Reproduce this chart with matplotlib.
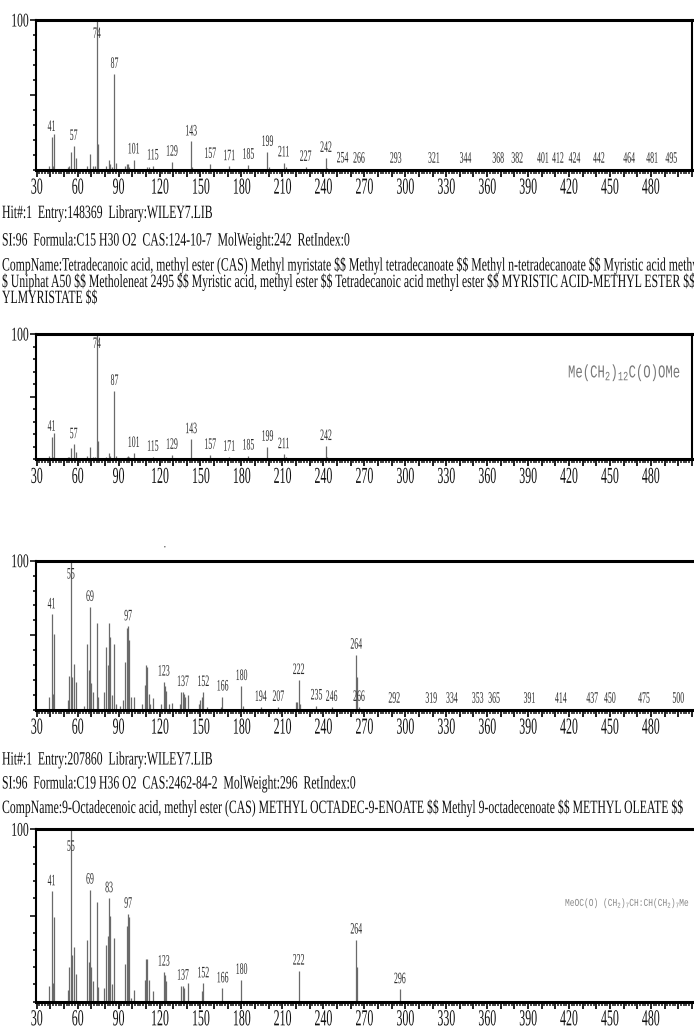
import matplotlib
matplotlib.use('Agg')
import matplotlib.pyplot as plt
from matplotlib.patheffects import AbstractPathEffect
from matplotlib.transforms import Affine2D
from matplotlib.ticker import MultipleLocator, FixedLocator, FuncFormatter

plt.rcParams['font.family'] = ['Liberation Serif', 'DejaVu Serif']
plt.rcParams['mathtext.default'] = 'regular'

# spectrum 1: sample peak, methyl myristate
mz1 = [39, 41, 42, 43, 53, 54, 55, 57, 59, 67, 69, 71, 73, 74, 75, 81, 83, 84, 85, 87, 88,
       95, 96, 97, 98, 101, 111, 112, 115, 129, 130, 143, 144, 155, 157, 171, 185, 199, 200,
       211, 213, 227, 242, 243, 254, 266, 293, 321, 344, 368, 382, 401, 412, 424, 442, 464,
       481, 495]
ab1 = [3, 22, 3, 24, 2, 3, 12, 16, 8, 3, 11, 3, 3, 100, 17, 3, 7, 4, 2, 64, 5,
       3, 4, 4, 2, 7, 2, 2, 3, 5.5, 1, 19, 2, 1, 4, 2.5, 3.5, 12, 2,
       5, 2, 2, 8, 1.5, 1, 0.8, 0.8, 0.8, 0.8, 0.8, 0.8, 0.8, 0.8, 0.8, 0.8, 0.8,
       0.8, 0.8]
lab1 = [41, 57, 74, 87, 101, 115, 129, 143, 157, 171, 185, 199, 211, 227, 242, 254, 266,
        293, 321, 344, 368, 382, 401, 412, 424, 442, 464, 481, 495]

# spectrum 2: library hit, methyl myristate
mz2 = [39, 41, 42, 43, 53, 54, 55, 57, 59, 67, 69, 71, 73, 74, 75, 81, 83, 84, 87, 88,
       96, 97, 98, 101, 115, 129, 143, 157, 171, 185, 199, 211, 213, 242, 243]
ab2 = [3, 18, 2, 21, 2, 2, 9, 12, 6, 3, 10, 2, 2, 100, 15, 2, 5, 3, 54.5, 3,
       2, 3, 2, 5, 2, 3.5, 16, 3.5, 2, 3, 10, 4, 2, 10.5, 2]
lab2 = [41, 57, 74, 87, 101, 115, 129, 143, 157, 171, 185, 199, 211, 242]

# spectrum 3: sample peak, methyl oleate
mz3 = [39, 41, 42, 43, 53, 54, 55, 56, 57, 59, 65, 67, 68, 69, 70, 71, 74, 75, 79, 81, 82,
       83, 84, 85, 87, 88, 91, 93, 95, 96, 97, 98, 99, 101, 107, 109, 110, 111, 112, 113,
       115, 121, 123, 124, 125, 127, 129, 135, 136, 137, 138, 139, 141, 149, 150, 151, 152,
       155, 165, 166, 180, 181, 194, 207, 220, 221, 222, 223, 235, 246, 264, 265, 266, 292,
       319, 334, 353, 365, 391, 414, 437, 450, 475, 500]
ab3 = [9, 64, 11, 51, 7, 23, 100, 22, 31, 19, 3, 44, 27, 69, 18, 12, 58, 9, 12, 42, 30,
       58, 49, 10, 44, 4, 3, 7, 32, 55, 56, 47, 9, 9, 4, 17, 30, 29, 11, 4,
       8, 4, 19, 16, 13, 4, 5, 4, 12, 12, 11, 9, 10, 4, 7, 9, 12,
       2, 2, 9, 16, 3, 2, 2, 5.5, 5.5, 20, 4, 3, 2, 37, 22, 2, 0.8,
       0.8, 0.8, 0.8, 0.8, 0.8, 0.8, 0.8, 0.8, 0.8, 0.8]
lab3 = [41, 55, 69, 97, 123, 137, 152, 166, 180, 194, 207, 222, 235, 246, 264, 266, 292,
        319, 334, 353, 365, 391, 414, 437, 450, 475, 500]

# spectrum 4: library hit, methyl oleate
mz4 = [39, 41, 42, 43, 53, 54, 55, 56, 57, 59, 67, 68, 69, 70, 71, 74, 75, 79, 81, 82, 83,
       84, 85, 87, 95, 96, 97, 98, 99, 101, 109, 110, 111, 112, 115, 123, 124, 125, 136,
       137, 138, 141, 151, 152, 166, 180, 222, 264, 265, 296]
ab4 = [9, 64, 11, 49, 7, 20, 100, 27, 32, 16, 36, 23, 65, 20, 12, 58, 8.5, 8, 33, 38, 60,
       50, 10, 37, 22, 44, 51, 49, 2, 7, 12.6, 25, 25, 12.6, 6, 17.4, 15.5, 12, 9.3,
       9.3, 7.7, 10.6, 6, 10.6, 7.7, 12.6, 18, 36, 20, 7.2]
lab4 = [41, 55, 69, 83, 97, 123, 137, 152, 166, 180, 222, 264, 296]

hit1 = ['Hit#:1  Entry:148369  Library:WILEY7.LIB',
        'SI:96  Formula:C15 H30 O2  CAS:124-10-7  MolWeight:242  RetIndex:0',
        'CompName:Tetradecanoic acid, methyl ester (CAS) Methyl myristate $$ Methyl tetradecanoate'
        ' $$ Methyl n-tetradecanoate $$ Myristic acid methyl ester $',
        '$ Uniphat A50 $$ Metholeneat 2495 $$ Myristic acid, methyl ester $$ Tetradecanoic acid'
        ' methyl ester $$ MYRISTIC ACID-METHYL ESTER $$ METH',
        'YLMYRISTATE $$']
hit2 = ['Hit#:1  Entry:207860  Library:WILEY7.LIB',
        'SI:96  Formula:C19 H36 O2  CAS:2462-84-2  MolWeight:296  RetIndex:0',
        'CompName:9-Octadecenoic acid, methyl ester (CAS) METHYL OCTADEC-9-ENOATE $$'
        ' Methyl 9-octadecenoate $$ METHYL OLEATE $$']


class Squeeze(AbstractPathEffect):
    # draws the text narrower, like the condensed print of the scan
    def __init__(self, sx=0.55, anchor='center'):
        super().__init__()
        self.sx = sx
        self.anchor = anchor

    def draw_path(self, renderer, gc, tpath, affine, rgbFace=None):
        ext = tpath.get_extents()
        if self.anchor == 'left':
            px = 0.0
        elif self.anchor == 'right':
            px = ext.x1
        else:
            px = (ext.x0 + ext.x1) / 2
        x0 = affine.transform((px, 0))[0]
        aff = affine + Affine2D().translate(-x0, 0).scale(self.sx, 1).translate(x0, 0)
        renderer.draw_path(gc, tpath, aff, rgbFace)


W, H = 694, 1032
fig = plt.figure(figsize=(W / 100, H / 100), dpi=100)

X30 = 36.67   # pixel of m/z 30
K = 1.365     # pixels per m/z unit
LEFT = 35.5


def spectrum(top, bottom, right, mz, ab, labels):
    ax = fig.add_axes([LEFT / W, 1 - bottom / H, (right - LEFT) / W, (bottom - top) / H])
    ax.vlines(mz, 0, ab, colors='#6a6a6a', lw=0.9)
    ax.set_xlim(30 - (X30 - LEFT) / K, 30 + (right - X30) / K)
    ax.set_ylim(0, 100)
    for m in labels:
        a = ab[mz.index(m)]
        ax.annotate(str(m), (m, min(a, 84)), xytext=(0, 1.5), textcoords='offset points',
                    ha='center', va='bottom', fontsize=11.5, color='#2a2a2a',
                    path_effects=[Squeeze(0.49)])
    ax.xaxis.set_major_locator(MultipleLocator(10))
    ax.xaxis.set_minor_locator(MultipleLocator(2))
    ax.xaxis.set_major_formatter(FuncFormatter(
        lambda v, p: str(int(round(v))) if int(round(v)) % 30 == 0 and v < 490 else ''))
    ax.tick_params(axis='x', which='major', direction='out', length=5, width=1.3,
                   labelsize=16.5, pad=0.5, color='#111')
    ax.tick_params(axis='x', which='minor', direction='out', length=3, width=1.1, color='#111')
    ax.yaxis.set_major_locator(FixedLocator([50, 100]))
    ax.yaxis.set_minor_locator(MultipleLocator(10))
    ax.yaxis.set_major_formatter(FuncFormatter(lambda v, p: '100' if v == 100 else ''))
    ax.tick_params(axis='y', which='major', direction='out', length=4.5, width=1.2,
                   labelsize=14, pad=0, color='#111')
    ax.tick_params(axis='y', which='minor', direction='out', length=2, width=1.2, color='#111')
    for side in ['top', 'bottom']:
        ax.spines[side].set_linewidth(2.2)
    for side in ['left', 'right']:
        ax.spines[side].set_linewidth(1.5)
    for lbl in ax.get_xticklabels():
        lbl.set_path_effects([Squeeze(0.52)])
        lbl.set_color('#111')
    for lbl in ax.get_yticklabels():
        lbl.set_path_effects([Squeeze(0.6, 'right')])
        lbl.set_color('#111')
    return ax


ax1 = spectrum(20, 170, 692, mz1, ab1, lab1)
ax2 = spectrum(334, 459.3, 692, mz2, ab2, lab2)
ax3 = spectrum(560.7, 710, 720, mz3, ab3, lab3)
ax4 = spectrum(829.3, 1001.7, 720, mz4, ab4, lab4)


def info(lines, ys):
    for s, y in zip(lines, ys):
        fig.text(2 / W, 1 - y / H, s.replace('$', r'\$'), fontsize=13.5, color='#111',
                 ha='left', va='center', path_effects=[Squeeze(0.627, 'left')])


info(hit1, [213.5, 241, 265.5, 282, 298.5])
info(hit2, [760, 784, 808])

fig.text(568 / W, 1 - 373 / H, r'Me(CH$_2$)$_{12}$C(O)OMe', family='Liberation Mono',
         fontsize=13, color='#777', ha='left', va='center', path_effects=[Squeeze(0.68, 'left')])
fig.text(565 / W, 1 - 903 / H, r'MeOC(O) (CH$_2$)$_7$CH:CH(CH$_2$)$_7$Me',
         family='Liberation Mono', fontsize=7.6, color='#888', ha='left', va='center',
         path_effects=[Squeeze(0.75, 'left')])
fig.text(165 / W, 1 - 547 / H, '•', fontsize=4, color='#333', ha='center', va='center')

fig.savefig('out.png', dpi=100)
